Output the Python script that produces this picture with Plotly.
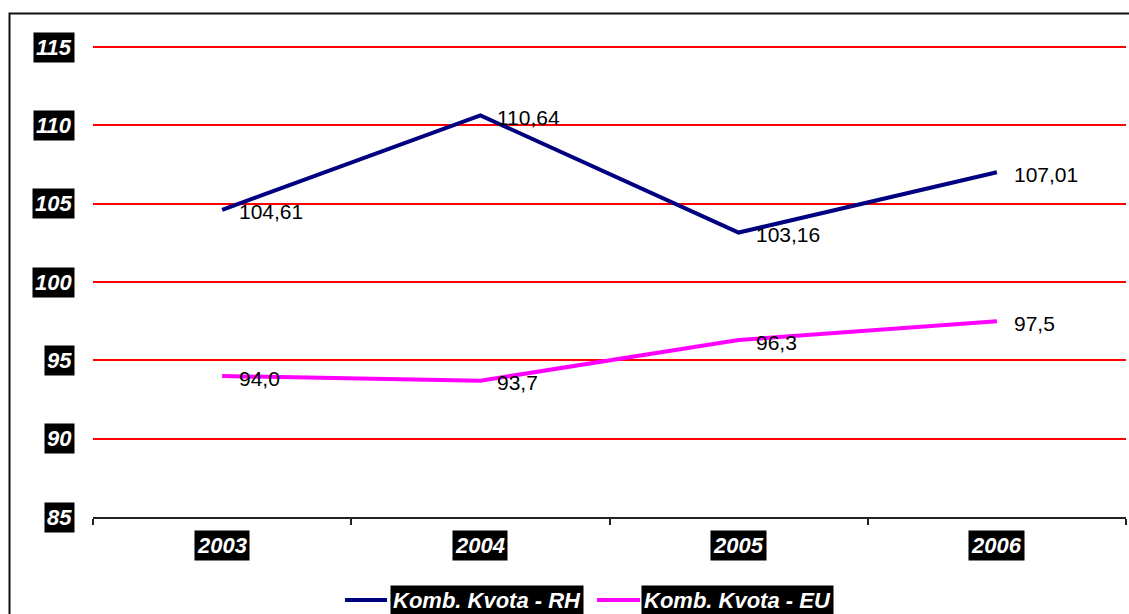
import plotly.graph_objects as go

# Combined quota, 2003-2006
years = ["2003", "2004", "2005", "2006"]
kvota_rh = [104.61, 110.64, 103.16, 107.01]
kvota_eu = [94.0, 93.7, 96.3, 97.5]
y_ticks = [85, 90, 95, 100, 105, 110, 115]
series_names = ["Komb. Kvota - RH", "Komb. Kvota - EU"]

NAVY = "#000080"
MAGENTA = "#FF00FF"
FONT = "Liberation Sans, Arial, sans-serif"

W, H = 1129, 614
ML, MR, MT, MB = 93, 3, 46, 97
PW, PH = W - ML - MR, H - MT - MB


def px_x(p):
    return (p - ML) / PW


def px_y(p):
    return (H - MB - p) / PH


fig = go.Figure()
fig.add_trace(go.Scatter(x=years, y=kvota_rh, mode="lines", name=series_names[0],
                         line=dict(color=NAVY, width=4), showlegend=False))
fig.add_trace(go.Scatter(x=years, y=kvota_eu, mode="lines", name=series_names[1],
                         line=dict(color=MAGENTA, width=4), showlegend=False))

annotations = []

# value labels to the right of each point (category positions by index)
for vals, fmt in ((kvota_rh, "{:.2f}"), (kvota_eu, "{:.1f}")):
    for i, v in enumerate(vals):
        annotations.append(dict(
            x=i, y=v, xref="x", yref="y", text=fmt.format(v).replace(".", ","),
            showarrow=False, xanchor="left", yanchor="middle", xshift=15, yshift=-2,
            font=dict(family=FONT, size=21, color="black")))

# y tick labels: white bold italic on black boxes
for t in y_ticks:
    annotations.append(dict(
        x=0, y=t, xref="paper", yref="y", text=f"<b><i>{t}</i></b>",
        showarrow=False, xanchor="right", yanchor="middle", xshift=-18,
        bgcolor="black", borderpad=2,
        font=dict(family=FONT, size=22, color="white")))

# category labels
for i, yr in enumerate(years):
    annotations.append(dict(
        x=i, y=0, xref="x", yref="paper", text=f"<b><i>{yr}</i></b>",
        showarrow=False, xanchor="center", yanchor="middle", yshift=-28,
        bgcolor="black", borderpad=2,
        font=dict(family=FONT, size=22, color="white")))

# legend built from line samples and boxed labels
shapes = []
legend_items = [(series_names[0], NAVY, 345, 387, 390),
                (series_names[1], MAGENTA, 597, 640, 641)]
for name, col, lx0, lx1, tx in legend_items:
    shapes.append(dict(type="line", xref="paper", yref="paper",
                       x0=px_x(lx0), x1=px_x(lx1), y0=px_y(600), y1=px_y(600),
                       line=dict(color=col, width=4)))
    annotations.append(dict(
        x=px_x(tx), y=px_y(600), xref="paper", yref="paper",
        text=f"<b><i>{name}</i></b>", showarrow=False,
        xanchor="left", yanchor="middle", bgcolor="black", borderpad=2,
        font=dict(family=FONT, size=22, color="white")))

# outer chart frame
shapes.append(dict(type="rect", xref="paper", yref="paper",
                   x0=px_x(9.5), x1=px_x(1145), y0=px_y(640), y1=px_y(13.5),
                   line=dict(color="#111111", width=2), fillcolor="rgba(0,0,0,0)",
                   layer="above"))

fig.update_layout(
    width=W, height=H,
    margin=dict(l=ML, r=MR, t=MT, b=MB),
    paper_bgcolor="white", plot_bgcolor="white",
    showlegend=False,
    annotations=annotations,
    shapes=shapes,
    xaxis=dict(type="category", categoryorder="array", categoryarray=years,
               range=[-0.5, len(years) - 0.5],
               tickson="boundaries", ticks="outside", ticklen=6,
               tickcolor="#222222", tickwidth=2, showticklabels=False,
               showline=True, linecolor="#222222", linewidth=2,
               showgrid=False, zeroline=False),
    yaxis=dict(range=[85, 115.07], tickvals=y_ticks, showticklabels=False,
               showgrid=True, gridcolor="#FF0000", gridwidth=2,
               zeroline=False, showline=False, ticks=""),
)

fig.write_html("out.html")
